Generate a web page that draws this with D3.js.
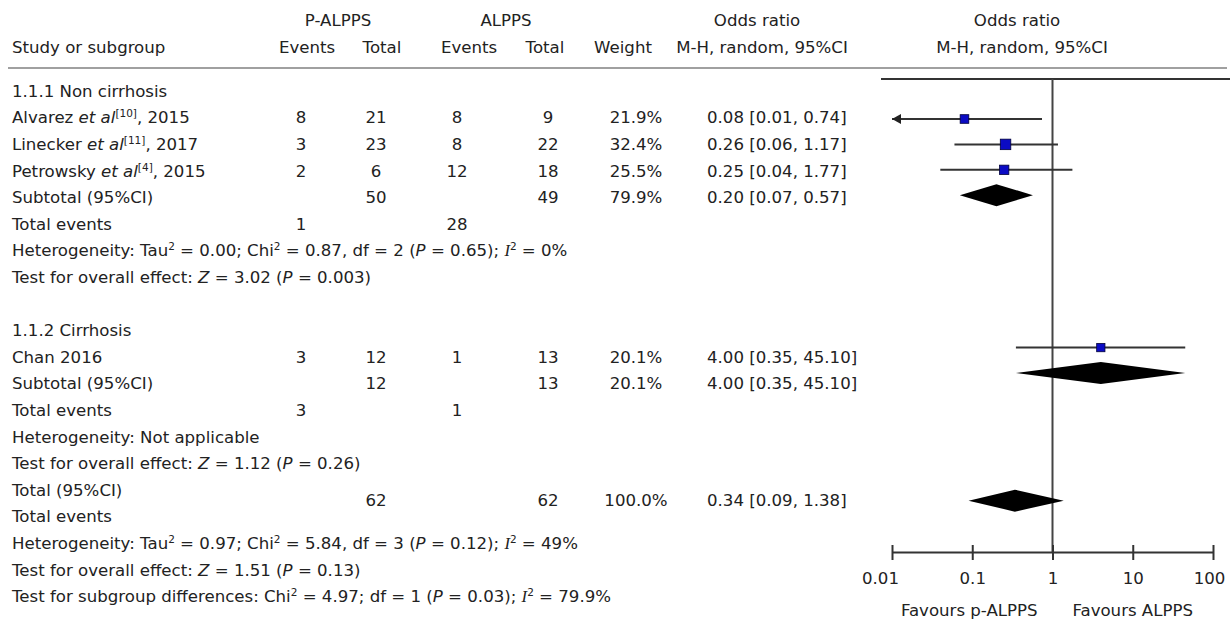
<!DOCTYPE html>
<html>
<head>
<meta charset="utf-8">
<script src="https://cdn.jsdelivr.net/npm/d3@7"></script>
<style>
    body { margin: 0; background: #fff; }
    svg { display: block; font-family: Tahoma, "DejaVu Sans", sans-serif; font-size: 16.6px; fill: #222; }
</style>
</head>
<body>
<svg id="chart" width="1230" height="622"></svg>
<script>
// study level data
const studyNames = ["Alvarez", "Linecker", "Petrowsky", "Chan"];
const studyRefs = ["10", "11", "4", ""];
const studyYears = ["2015", "2017", "2015", "2016"];
const studyGroup = [0, 0, 0, 1];
const pEvents = [8, 3, 2, 3];
const pTotal = [21, 23, 6, 12];
const aEvents = [8, 8, 12, 1];
const aTotal = [9, 22, 18, 13];
const weights = [21.9, 32.4, 25.5, 20.1];
const oddsRatio = [0.08, 0.26, 0.25, 4.00];
const ciLow = [0.01, 0.06, 0.04, 0.35];
const ciHigh = [0.74, 1.17, 1.77, 45.10];

// subgroups
const groupNames = ["1.1.1 Non cirrhosis", "1.1.2 Cirrhosis"];
const groupPTotal = [50, 12];
const groupATotal = [49, 13];
const groupPEvents = [1, 3];
const groupAEvents = [28, 1];
const groupWeight = [79.9, 20.1];
const groupOR = [0.20, 4.00];
const groupLow = [0.07, 0.35];
const groupHigh = [0.57, 45.10];
const groupHetero = [
    ["Heterogeneity: Tau", ["2", "sup"], " = 0.00; Chi", ["2", "sup"], " = 0.87, df = 2 (", ["P", "i"], " = 0.65); ", ["I", "I"], ["2", "sup"], " = 0%"],
    ["Heterogeneity: Not applicable"]
];
const groupEffect = [
    ["Test for overall effect: ", ["Z", "i"], " = 3.02 (", ["P", "i"], " = 0.003)"],
    ["Test for overall effect: ", ["Z", "i"], " = 1.12 (", ["P", "i"], " = 0.26)"]
];

// overall
const totalP = 62, totalA = 62, totalWeight = 100.0;
const totalOR = 0.34, totalLow = 0.09, totalHigh = 1.38;
const totalNotes = [
    ["Heterogeneity: Tau", ["2", "sup"], " = 0.97; Chi", ["2", "sup"], " = 5.84, df = 3 (", ["P", "i"], " = 0.12); ", ["I", "I"], ["2", "sup"], " = 49%"],
    ["Test for overall effect: ", ["Z", "i"], " = 1.51 (", ["P", "i"], " = 0.13)"],
    ["Test for subgroup differences: Chi", ["2", "sup"], " = 4.97; df = 1 (", ["P", "i"], " = 0.03); ", ["I", "I"], ["2", "sup"], " = 79.9%"]
];

const axisTicks = [0.01, 0.1, 1, 10, 100];
const favourLabels = ["Favours p-ALPPS", "Favours ALPPS"];

const svg = d3.select("#chart");
const fmtOR = d3.format(".2f");
const fmtW = d => d3.format(".1f")(d) + "%";
const orText = (o, l, h) => fmtOR(o) + " [" + fmtOR(l) + ", " + fmtOR(h) + "]";

// columns
const col = {name: 12, pEv: 301, pTot: 376, aEv: 457, aTot: 548, weight: 636, or: 707};
const rowY = d3.scaleLinear().domain([0, 1]).range([91, 117.6]);
const plotY = d3.scaleLinear().domain([1, 11]).range([119, 373]);

const x = d3.scaleLog().domain([0.01, 100]).range([892, 1213]);
const boxSize = d3.scaleSqrt().domain([0, d3.max(weights)]).range([0, 10.5]);

function richText(sel, segs) {
    let shift = 0;
    segs.forEach(function (s) {
        let txt = typeof s === "string" ? s : s[0];
        let kind = typeof s === "string" ? "" : s[1];
        let t = sel.append("tspan").text(txt);
        let dy;
        if (kind === "sup") {
            t.attr("font-size", 10.5);
            dy = -6 - shift;
            shift = -6;
        } else {
            dy = -shift;
            shift = 0;
        }
        if (dy) t.attr("dy", dy);
        if (kind === "i") t.attr("font-style", "italic");
        if (kind === "I") t.attr("font-style", "italic").attr("font-family", "'Liberation Serif', serif");
    });
    return sel;
}

function cell(xPos, y, txt, anchor) {
    return svg.append("text")
        .attr("x", xPos)
        .attr("y", y)
        .attr("dy", "0.35em")
        .attr("text-anchor", anchor || "middle")
        .text(txt);
}

// header
cell(338, 20, "P-ALPPS");
cell(506, 20, "ALPPS");
cell(757, 20, "Odds ratio");
cell(1017, 20, "Odds ratio");
cell(col.name, 47, "Study or subgroup", "start");
cell(307, 47, "Events");
cell(382, 47, "Total");
cell(469, 47, "Events");
cell(545, 47, "Total");
cell(623, 47, "Weight");
cell(762, 47, "M-H, random, 95%CI");
cell(1022, 47, "M-H, random, 95%CI");

svg.append("line")
    .attr("x1", 8).attr("x2", 1227)
    .attr("y1", 68).attr("y2", 68)
    .style("stroke", "#808080")
    .style("stroke-width", 1.5);

// plot frame
svg.append("line")
    .attr("x1", 881).attr("x2", 1230)
    .attr("y1", 79).attr("y2", 79)
    .style("stroke", "#333")
    .style("stroke-width", 2);

svg.append("line")
    .attr("x1", x(1)).attr("x2", x(1))
    .attr("y1", 79).attr("y2", 552)
    .style("stroke", "#444")
    .style("stroke-width", 2);

function drawDiamond(o, l, h, y) {
    svg.append("polygon")
        .attr("points", [[x(l), y], [x(o), y - 11], [x(h), y], [x(o), y + 11]].map(p => p.join(",")).join(" "))
        .style("fill", "#000");
}

function drawStudy(i, row) {
    let y = rowY(row);
    let py = plotY(row);
    let label = svg.append("text")
        .attr("x", col.name).attr("y", y).attr("dy", "0.35em");
    if (studyRefs[i]) {
        richText(label, [studyNames[i] + " ", ["et al", "i"], ["[" + studyRefs[i] + "]", "sup"], ", " + studyYears[i]]);
    } else {
        label.text(studyNames[i] + " " + studyYears[i]);
    }
    cell(col.pEv, y, pEvents[i]);
    cell(col.pTot, y, pTotal[i]);
    cell(col.aEv, y, aEvents[i]);
    cell(col.aTot, y, aTotal[i]);
    cell(col.weight, y, fmtW(weights[i]));
    cell(col.or, y, orText(oddsRatio[i], ciLow[i], ciHigh[i]), "start");

    let lo = Math.max(ciLow[i], x.domain()[0]);
    let x1 = x(lo);
    svg.append("line")
        .attr("x1", x1).attr("x2", x(ciHigh[i]))
        .attr("y1", py).attr("y2", py)
        .style("stroke", "#333")
        .style("stroke-width", 2);
    if (ciLow[i] <= x.domain()[0]) {
        svg.append("path")
            .attr("d", "M" + x1 + "," + py + "l9,-5v10z")
            .style("fill", "#222");
    }
    let s = boxSize(weights[i]);
    svg.append("rect")
        .attr("x", x(oddsRatio[i]) - s / 2)
        .attr("y", py - s / 2)
        .attr("width", s).attr("height", s)
        .style("fill", "#0b0bc4")
        .style("stroke", "#00003a")
        .style("stroke-width", 0.8);
}

// groups
let row = 0;
groupNames.forEach(function (g, gi) {
    cell(col.name, rowY(row), g, "start");
    row++;
    d3.range(studyNames.length).filter(i => studyGroup[i] === gi).forEach(function (i) {
        drawStudy(i, row);
        row++;
    });
    let y = rowY(row);
    cell(col.name, y, "Subtotal (95%CI)", "start");
    cell(col.pTot, y, groupPTotal[gi]);
    cell(col.aTot, y, groupATotal[gi]);
    cell(col.weight, y, fmtW(groupWeight[gi]));
    cell(col.or, y, orText(groupOR[gi], groupLow[gi], groupHigh[gi]), "start");
    drawDiamond(groupOR[gi], groupLow[gi], groupHigh[gi], plotY(row));
    row++;
    y = rowY(row);
    cell(col.name, y, "Total events", "start");
    cell(col.pEv, y, groupPEvents[gi]);
    cell(col.aEv, y, groupAEvents[gi]);
    row++;
    richText(svg.append("text").attr("x", col.name).attr("y", rowY(row)).attr("dy", "0.35em"), groupHetero[gi]);
    row++;
    richText(svg.append("text").attr("x", col.name).attr("y", rowY(row)).attr("dy", "0.35em"), groupEffect[gi]);
    row++;
    if (gi < groupNames.length - 1) row++; // blank line between subgroups
});

// overall total
cell(col.name, rowY(row), "Total (95%CI)", "start");
let vy = rowY(row + 0.4);
cell(col.pTot, vy, totalP);
cell(col.aTot, vy, totalA);
cell(col.weight, vy, fmtW(totalWeight));
cell(col.or, vy, orText(totalOR, totalLow, totalHigh), "start");
drawDiamond(totalOR, totalLow, totalHigh, vy);
row++;
cell(col.name, rowY(row), "Total events", "start");
row++;
totalNotes.forEach(function (n) {
    richText(svg.append("text").attr("x", col.name).attr("y", rowY(row)).attr("dy", "0.35em"), n);
    row++;
});

// axis
let axisG = svg.append("g")
    .attr("transform", "translate(0,552)")
    .call(d3.axisBottom(x)
        .tickValues(axisTicks)
        .tickFormat(d3.format("~g"))
        .tickSize(8)
        .tickSizeOuter(0)
        .tickPadding(12))
    .attr("font-family", null)
    .attr("font-size", null)
    .attr("color", "#333");
axisG.select(".domain").style("stroke-width", 2);
axisG.selectAll(".tick line").attr("y1", -7).style("stroke-width", 2);
axisG.selectAll(".tick text").style("fill", "#222")
    .attr("dx", (d, i) => i === 0 ? -12 : (i === axisTicks.length - 1 ? -4 : 0));

cell(x(0.1) - 3, 610, favourLabels[0]);
cell(x(10), 610, favourLabels[1]);
</script>
</body>
</html>
